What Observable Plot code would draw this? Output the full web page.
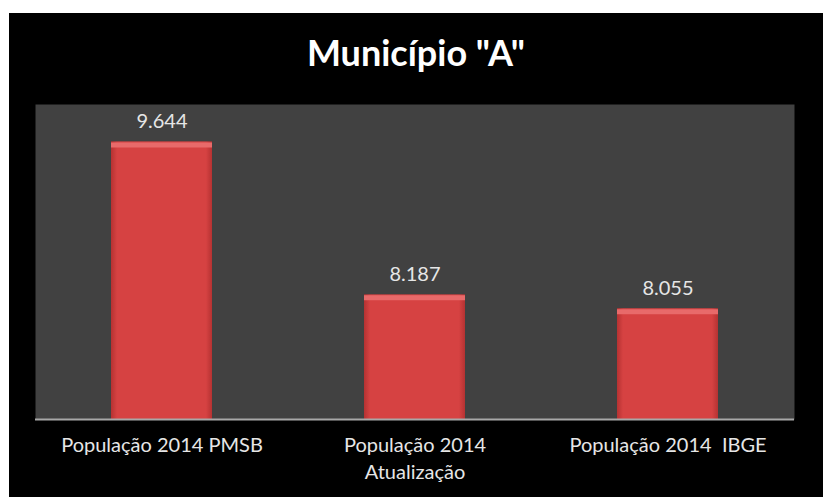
<!DOCTYPE html>
<html>
<head>
<meta charset="utf-8">
<script src="https://cdn.jsdelivr.net/npm/d3@7"></script>
<script src="https://cdn.jsdelivr.net/npm/@observablehq/plot@0.6"></script>
<style>
  html, body { margin: 0; padding: 0; background: #ffffff; }
  #wrap { position: absolute; left: 9px; top: 13px; width: 814px; height: 484px; background: #000; overflow: hidden; }
  #title { height: 60px; line-height: 54px; margin-top: 12px; text-align: center; color: #fff;
           font-family: Lato, "Open Sans", sans-serif; font-weight: bold; font-size: 36px; }
  #chart svg { display: block; }
</style>
</head>
<body>
<div id="wrap">
  <div id="title">Município "A"</div>
  <div id="chart"></div>
</div>
<script>
const categories = ["População 2014 PMSB", "População 2014\nAtualização", "População 2014  IBGE"];
const values = [9644, 8187, 8055];
const yDomain = [7000, 10000];

const data = categories.map((c, i) => ({category: c, value: values[i]}));
const fmt = d3.formatLocale({decimal: ",", thousands: ".", grouping: [3], currency: ["", ""]}).format(",");

const plot = Plot.plot({
  width: 814,
  height: 412,
  marginTop: 19,
  marginLeft: 26,
  marginRight: 29,
  marginBottom: 78,
  style: {background: "transparent", fontFamily: "Lato, 'Open Sans', sans-serif"},
  x: {domain: categories, paddingInner: 0.6, paddingOuter: 0.3, align: 0.5},
  y: {domain: yDomain, axis: null},
  marks: [
    Plot.frame({fill: "#414141", stroke: null}),
    Plot.barY(data, {x: "category", y1: yDomain[0], y2: "value", fill: "url(#barGrad)"}),
    Plot.tickY(data, {x: "category", y: "value", stroke: "#e86a6a", strokeWidth: 5, dy: 3}),
    Plot.ruleY([yDomain[0]], {stroke: "#a8a8a8", strokeWidth: 2}),
    Plot.text(data, {x: "category", y: "value", text: d => fmt(d.value), fill: "#e6e6e6",
      fontSize: 20, lineAnchor: "bottom", dy: -14}),
    Plot.axisX({tickSize: 0, tickPadding: 13, fontSize: 20, lineHeight: 1.35, color: "#e6e6e6", label: null})
  ]
});

const ns = "http://www.w3.org/2000/svg";
const defs = document.createElementNS(ns, "defs");
defs.innerHTML = `<linearGradient id="barGrad" x1="0" x2="1" y1="0" y2="0">
  <stop offset="0" stop-color="#b53232"/>
  <stop offset="0.06" stop-color="#d64242"/>
  <stop offset="0.94" stop-color="#d64242"/>
  <stop offset="1" stop-color="#b53232"/>
</linearGradient>`;
plot.insertBefore(defs, plot.firstChild);
plot.querySelectorAll("text").forEach(t => t.setAttribute("xml:space", "preserve"));
plot.querySelectorAll("tspan").forEach(t => t.style.whiteSpace = "pre");
document.getElementById("chart").appendChild(plot);
</script>
</body>
</html>
